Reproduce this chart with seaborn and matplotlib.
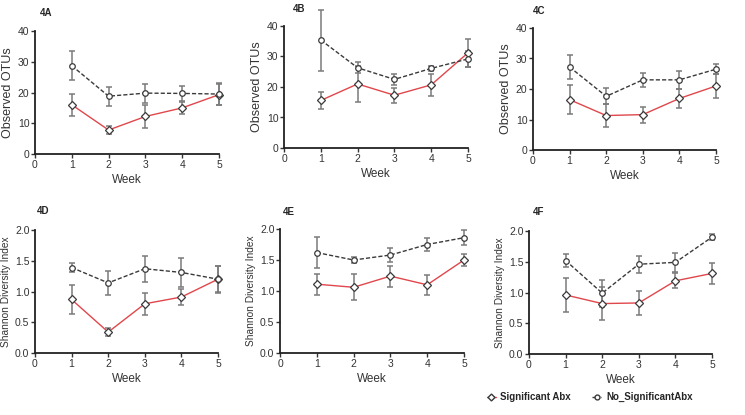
import matplotlib
matplotlib.use("Agg")
import matplotlib.pyplot as plt
import pandas as pd
import seaborn as sns

weeks = [1, 2, 3, 4, 5]
groups = ["Significant Abx", "No_SignificantAbx"]

# observed OTUs (top row)
otu_a_sig = [16.0, 7.8, 12.2, 15.0, 19.3]
otu_a_sig_err = [3.5, 1.2, 3.6, 2.0, 3.5]
otu_a_no = [28.7, 18.8, 19.8, 19.7, 19.5]
otu_a_no_err = [4.7, 3.1, 3.1, 2.5, 3.6]

otu_b_sig = [15.6, 21.0, 17.3, 20.7, 31.2]
otu_b_sig_err = [2.8, 6.0, 2.5, 3.6, 4.5]
otu_b_no = [35.4, 26.3, 22.5, 26.1, 29.2]
otu_b_no_err = [10.0, 1.8, 1.7, 0.7, 2.6]

otu_c_sig = [16.5, 11.3, 11.6, 16.9, 21.0]
otu_c_sig_err = [4.8, 3.7, 2.6, 3.2, 3.8]
otu_c_no = [27.2, 17.6, 23.0, 23.0, 26.5]
otu_c_no_err = [3.8, 2.6, 2.3, 3.0, 1.7]

# Shannon diversity (bottom row)
sh_d_sig = [0.87, 0.34, 0.80, 0.91, 1.20]
sh_d_sig_err = [0.23, 0.07, 0.18, 0.13, 0.21]
sh_d_no = [1.39, 1.14, 1.37, 1.31, 1.20]
sh_d_no_err = [0.08, 0.19, 0.21, 0.23, 0.22]

sh_e_sig = [1.11, 1.06, 1.24, 1.10, 1.50]
sh_e_sig_err = [0.17, 0.21, 0.17, 0.16, 0.10]
sh_e_no = [1.62, 1.50, 1.58, 1.75, 1.86]
sh_e_no_err = [0.25, 0.05, 0.12, 0.11, 0.12]

sh_f_sig = [0.96, 0.82, 0.83, 1.19, 1.31]
sh_f_sig_err = [0.27, 0.27, 0.20, 0.12, 0.17]
sh_f_no = [1.52, 0.99, 1.46, 1.49, 1.90]
sh_f_no_err = [0.10, 0.22, 0.14, 0.16, 0.05]

panels = [
    ("4A", "Observed OTUs", 40, otu_a_sig, otu_a_sig_err, otu_a_no, otu_a_no_err),
    ("4B", "Observed OTUs", 40, otu_b_sig, otu_b_sig_err, otu_b_no, otu_b_no_err),
    ("4C", "Observed OTUs", 40, otu_c_sig, otu_c_sig_err, otu_c_no, otu_c_no_err),
    ("4D", "Shannon Diversity Index", 2.0, sh_d_sig, sh_d_sig_err, sh_d_no, sh_d_no_err),
    ("4E", "Shannon Diversity Index", 2.0, sh_e_sig, sh_e_sig_err, sh_e_no, sh_e_no_err),
    ("4F", "Shannon Diversity Index", 2.0, sh_f_sig, sh_f_sig_err, sh_f_no, sh_f_no_err),
]

# axes boxes in pixels: left, top, right, bottom
boxes = [
    (35, 31, 219, 154), (284, 26, 468, 148), (533, 28, 716, 150),
    (35, 230, 218, 353), (280, 229, 464, 353), (529, 231, 712, 354),
]
# panel letter positions in pixels (left, top)
letter_pos = [(40, 8), (293, 4), (533, 6), (37, 206), (283, 207), (533, 207)]

W, H = 745, 415
red = "#e0474c"
dark = "#3a3a3a"
errc = "#7a7a7a"
txt = "#333333"

sns.set_style("ticks")
plt.rcParams["font.family"] = ["Liberation Sans", "DejaVu Sans"]

fig = plt.figure(figsize=(W / 100, H / 100), dpi=100)

for (label, ylab, ymax, sig, sig_err, no, no_err), (l, t, r, b), (lx, ly) in zip(
        panels, boxes, letter_pos):
    ax = fig.add_axes([l / W, 1 - b / H, (r - l) / W, (b - t) / H])
    df = pd.DataFrame({
        "Week": weeks * 2,
        "value": sig + no,
        "group": [groups[0]] * 5 + [groups[1]] * 5,
    })
    for vals, errs in ((sig, sig_err), (no, no_err)):
        ax.errorbar(weeks, vals, yerr=errs, fmt="none", ecolor=errc,
                    elinewidth=1.1, capsize=2.5, capthick=1.1, zorder=1,
                    clip_on=False)
    sns.lineplot(data=df, x="Week", y="value", hue="group", style="group",
                 palette={groups[0]: red, groups[1]: dark},
                 dashes={groups[0]: "", groups[1]: (3, 1.5)},
                 markers={groups[0]: "D", groups[1]: "o"},
                 markersize=4, markerfacecolor="white", markeredgecolor=dark,
                 markeredgewidth=0.9, linewidth=1.0, legend=False, ax=ax,
                 zorder=3, clip_on=False)
    ax.set_xlim(0, 5)
    ax.set_ylim(0, ymax)
    ax.set_xticks([0, 1, 2, 3, 4, 5])
    if ymax == 40:
        ax.set_yticks([0, 10, 20, 30, 40])
        ax.set_ylabel(ylab, fontsize=9, color=txt, labelpad=3)
    else:
        ax.set_yticks([0, 0.5, 1.0, 1.5, 2.0])
        ax.set_yticklabels(["0.0", "0.5", "1.0", "1.5", "2.0"])
        ax.set_ylabel(ylab, fontsize=7.3, color=txt, labelpad=3)
    ax.set_xlabel("Week", fontsize=8.5, color=txt, labelpad=3)
    ax.tick_params(labelsize=7.5, colors=txt, length=3, width=1, pad=1)
    for s in ("left", "bottom"):
        ax.spines[s].set_linewidth(1.3)
        ax.spines[s].set_color("#222222")
    sns.despine(ax=ax)
    fig.text(lx / W, 1 - ly / H, label, fontsize=7, fontweight="bold",
             ha="left", va="top")

# legend
h1 = plt.Line2D([], [], color=red, marker="D", markersize=3.5,
                markerfacecolor="white", markeredgecolor=dark, linewidth=1)
h2 = plt.Line2D([], [], color=dark, linestyle=(0, (2, 1)), marker="o",
                markersize=3.5, markerfacecolor="white", markeredgecolor=dark,
                linewidth=1)
fig.legend([h1, h2], groups, loc="center left",
           bbox_to_anchor=(478 / W, 1 - 397 / H),
           ncol=2, frameon=False, handlelength=0.9, handletextpad=0.5,
           columnspacing=2.2, prop={"weight": "bold", "size": 7})

fig.savefig("out.png", dpi=100)
